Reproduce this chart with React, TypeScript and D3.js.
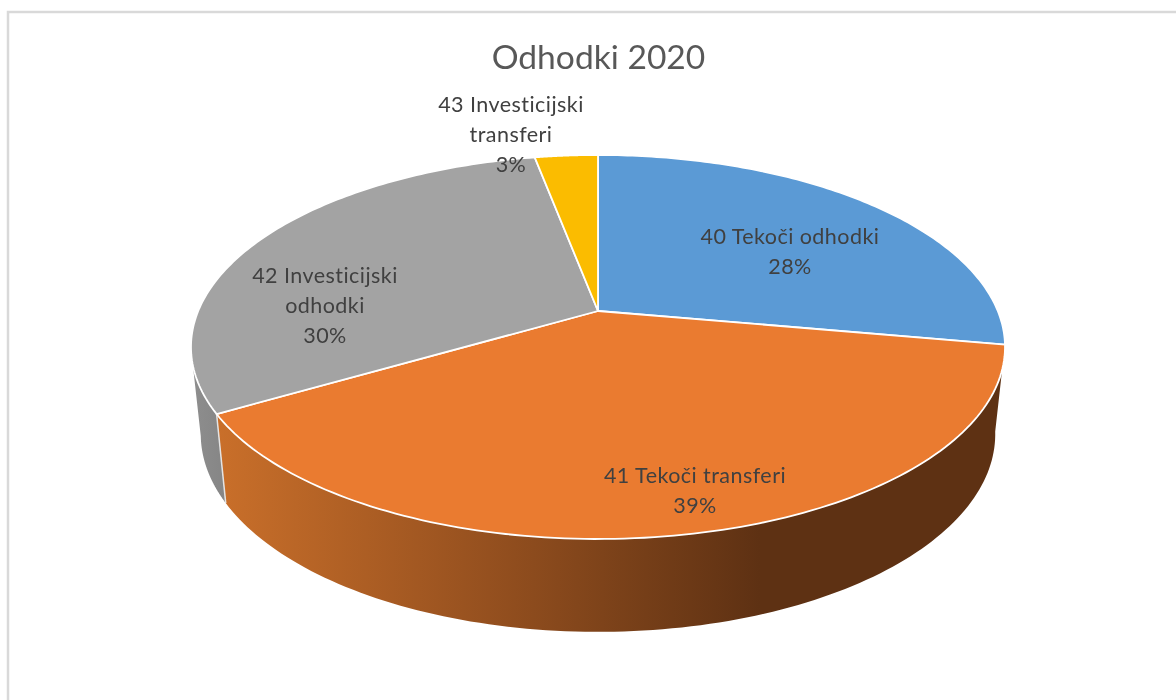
import React from "react";
import * as d3 from "d3";

const categories = ["40 Tekoči odhodki", "41 Tekoči transferi", "42 Investicijski odhodki", "43 Investicijski transferi"];
const shares = [27.8, 38.8, 30.4, 3.0];
const percentLabels = ["28%", "39%", "30%", "3%"];
const colors = ["#5b9ad5", "#ea7b30", "#a3a3a3", "#fbbc00"];
const labelLines = [["40 Tekoči odhodki"], ["41 Tekoči transferi"], ["42 Investicijski", "odhodki"], ["43 Investicijski", "transferi"]];
const labelCenters = [[790, 237], [695, 476], [325, 276], [511, 105]];

const K = 0.1875;
const pie = d3.pie<number>().sort(null).value((d) => d)(shares);

const xTop = d3.scaleLinear().domain([-1, 1]).range([598 - 399.8, 598 + 399.8]);
const yTop = d3.scaleLinear().domain([-1, 1]).range([311 - 185.25, 311 + 185.25]);
const xBot = d3.scaleLinear().domain([-1, 1]).range([598 - 399.8 * 0.976, 598 + 399.8 * 0.976]);
const yBot = d3.scaleLinear().domain([-1, 1]).range([397 - 185.25 * 1.03, 397 + 185.25 * 1.03]);

const project = (a: number, bottom: boolean): [number, number] => {
  const u = Math.sin(a);
  const v = -Math.cos(a);
  const w = 1 - K * v;
  return bottom ? [xBot(u / w), yBot(v / w)] : [xTop(u / w), yTop(v / w)];
};
const arcPts = (a0: number, a1: number, bottom: boolean) =>
  d3.range(0, 121).map((i) => project(a0 + ((a1 - a0) * i) / 120, bottom));
const line = d3.line();
const topPath = (a0: number, a1: number) => line([[xTop(0), yTop(0)], ...arcPts(a0, a1, false)])! + "Z";
const sidePath = (a0: number, a1: number) => line([...arcPts(a0, a1, false), ...arcPts(a0, a1, true).reverse()])! + "Z";

const font = "Lato, 'Open Sans', sans-serif";

export default function App() {
  return (
    <svg width={1176} height={700} style={{ position: "fixed", left: 0, top: 0, background: "#fff" }}>
      <defs>
        <linearGradient id="sideOrange" gradientUnits="userSpaceOnUse" x1={218} x2={760} y1={0} y2={0}>
          <stop offset="0" stopColor="#c96f2a" />
          <stop offset="0.5" stopColor="#95501f" />
          <stop offset="1" stopColor="#5e3113" />
        </linearGradient>
        <linearGradient id="sideGray" gradientUnits="userSpaceOnUse" x1={192} x2={227} y1={0} y2={0}>
          <stop offset="0" stopColor="#8e8e8e" />
          <stop offset="1" stopColor="#858585" />
        </linearGradient>
        <filter id="soft" x="-5%" y="-20%" width="110%" height="140%">
          <feGaussianBlur stdDeviation="0.35" />
        </filter>
      </defs>
      <path d="M8,700V12H1176" fill="none" stroke="#d9d9d9" strokeWidth={2.5} />

      {/* walls */}
      <path d={sidePath(pie[2].startAngle, pie[2].startAngle + 0.33)} fill="url(#sideGray)" />
      <path d={sidePath(pie[1].startAngle, pie[1].endAngle)} fill="url(#sideOrange)" stroke="none" />
      <path
        d={line([project(pie[1].endAngle, false), project(pie[1].endAngle, true)])!}
        stroke="#e4e4e4"
        strokeWidth={1.5}
        fill="none"
      />

      {/* top face */}
      {pie.map((p, i) => (
        <path
          key={categories[i]}
          d={topPath(p.startAngle, p.endAngle)}
          fill={colors[i]}
          stroke="#fff"
          strokeWidth={1.8}
          strokeLinejoin="round"
        />
      ))}

      <text x={598.5} y={69} textAnchor="middle" fontFamily={font} fontSize={33.6} fill="#595959" filter="url(#soft)">
        Odhodki 2020
      </text>
      {labelLines.map((lines, i) => (
        <text key={i} fontFamily={font} fontSize={21.5} letterSpacing={0.45} fill="#404040" textAnchor="middle" filter="url(#soft)">
          {[...lines, percentLabels[i]].map((t, j) => (
            <tspan key={j} x={labelCenters[i][0]} y={labelCenters[i][1] + 7 + j * 30}>
              {t}
            </tspan>
          ))}
        </text>
      ))}
    </svg>
  );
}
